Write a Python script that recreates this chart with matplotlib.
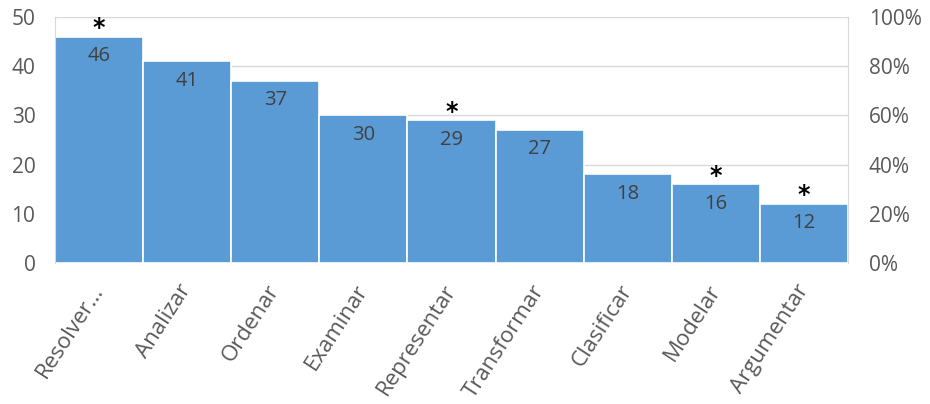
import numpy as np
import matplotlib
matplotlib.use("Agg")
import matplotlib.pyplot as plt
import matplotlib.transforms as mtransforms

categories = ["Resolver...", "Analizar", "Ordenar", "Examinar", "Representar",
              "Transformar", "Clasificar", "Modelar", "Argumentar"]
values = [46, 41, 37, 30, 29, 27, 18, 16, 12]
starred = [True, False, False, False, True, False, False, True, True]
left_ticks = [0, 10, 20, 30, 40, 50]
right_ticks = [0, 20, 40, 60, 80, 100]

plt.rcParams['font.family'] = ['Open Sans', 'DejaVu Sans']
grey = '#595959'
blue = '#5B9BD5'
line_grey = '#d9d9d9'

fig = plt.figure(figsize=(9.3, 4.04), dpi=100)
ax = fig.add_axes([0.059, 0.349, 0.853, 0.609])

x = np.arange(len(values))
ax.bar(x, values, width=1.0, color=blue, edgecolor='white', linewidth=1.2, zorder=2)

for xi, v, s in zip(x, values, starred):
    ax.text(xi, v - 1.9, str(v), ha='center', va='top', fontsize=14.5,
            color='#404040', zorder=3)
    if s:
        ax.text(xi, v + 0.35, '*', ha='center', va='baseline', fontsize=17,
                fontweight='bold', color='black', family='DejaVu Sans', zorder=3)

ax.set_xlim(-0.5, len(values) - 0.5)
ax.set_ylim(0, 50)
ax.set_yticks(left_ticks)
ax.yaxis.grid(True, color=line_grey, linewidth=1, zorder=0)
ax.set_axisbelow(True)
ax.set_xticks(x)
ax.set_xticklabels(categories, rotation=57, ha='right', va='center',
                   rotation_mode='anchor', fontsize=16, color=grey)
shift = mtransforms.ScaledTranslation(7 / 100, 0, fig.dpi_scale_trans)
for lab in ax.get_xticklabels():
    lab.set_transform(lab.get_transform() + shift)
ax.tick_params(axis='y', labelsize=15, colors=grey, length=0, pad=14)
ax.tick_params(axis='x', length=0, pad=17)
for sp in ax.spines.values():
    sp.set_visible(False)
ax.spines['left'].set_visible(True)
ax.spines['left'].set_color(line_grey)

ax2 = ax.twinx()
ax2.set_ylim(0, 100)
ax2.set_yticks(right_ticks)
ax2.set_yticklabels([f"{t}%" for t in right_ticks])
ax2.tick_params(axis='y', labelsize=15, colors=grey, length=0, pad=15)
for sp in ax2.spines.values():
    sp.set_visible(False)
ax2.spines['right'].set_visible(True)
ax2.spines['right'].set_color(line_grey)

fig.savefig('out.png', dpi=100)
